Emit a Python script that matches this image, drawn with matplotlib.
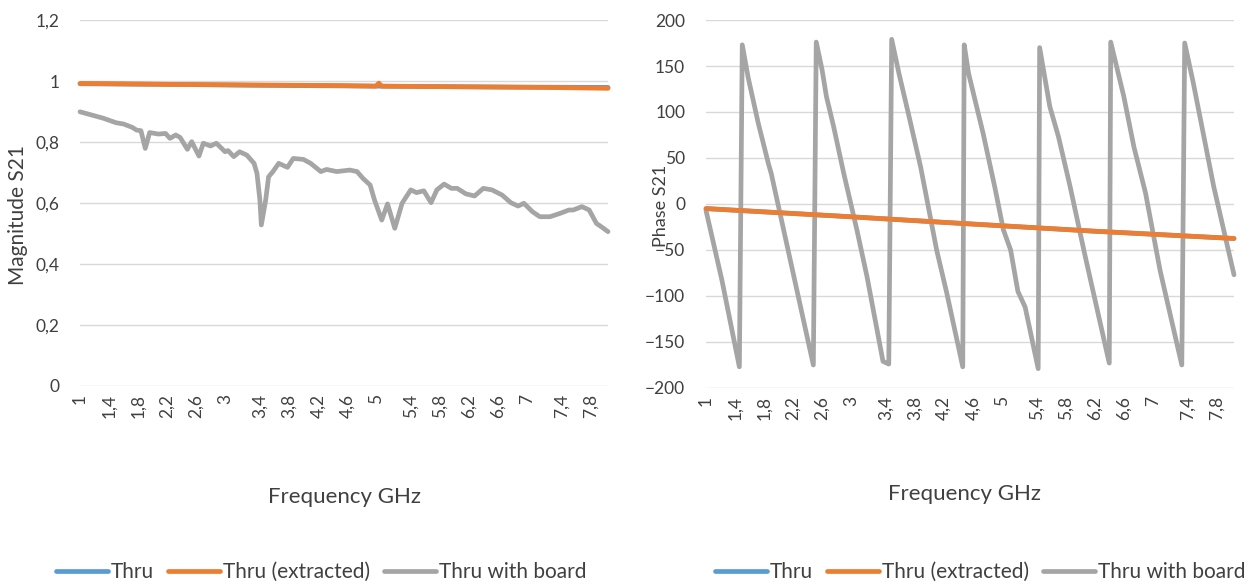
import matplotlib
matplotlib.use('Agg')
from matplotlib import pyplot as plt

plt.rcParams['font.family'] = ['Lato', 'DejaVu Sans']

# category labels (every 0.4 GHz) and their position on the sample index axis
tick_labels = ['1', '1,4', '1,8', '2,2', '2,6', '3', '3,4', '3,8', '4,2', '4,6',
               '5', '5,4', '5,8', '6,2', '6,6', '7', '7,4', '7,8']
tick_idx = [0, 20, 40, 60, 80, 100, 124, 144, 164, 184, 204, 228, 248, 268, 288, 308, 332, 352]
last_idx = 364

# Magnitude S21
mag_board_idx = [0, 16, 25, 30, 36, 39, 42, 45, 48, 54, 59, 62, 66, 69, 74, 77, 82, 85, 90, 94,
                 100, 102, 106, 110, 115, 120, 122, 124, 125, 128, 130, 133, 137, 143, 147, 154,
                 159, 166, 170, 177, 186, 191, 195, 200, 203, 208, 212, 217, 222, 228, 232, 237,
                 242, 246, 251, 256, 260, 266, 272, 278, 284, 291, 297, 302, 306, 312, 317, 324,
                 331, 337, 340, 346, 351, 356, 360, 364]
mag_board = [0.899, 0.878, 0.863, 0.859, 0.848, 0.839, 0.837, 0.779, 0.831, 0.826, 0.828, 0.812,
             0.823, 0.815, 0.776, 0.801, 0.754, 0.796, 0.787, 0.796, 0.768, 0.772, 0.752, 0.768,
             0.757, 0.730, 0.697, 0.610, 0.528, 0.610, 0.686, 0.703, 0.730, 0.717, 0.746, 0.743,
             0.730, 0.703, 0.710, 0.703, 0.708, 0.703, 0.681, 0.659, 0.610, 0.544, 0.597, 0.517,
             0.599, 0.643, 0.634, 0.640, 0.601, 0.643, 0.662, 0.648, 0.648, 0.630, 0.623, 0.648,
             0.643, 0.626, 0.601, 0.590, 0.599, 0.571, 0.555, 0.555, 0.566, 0.577, 0.577, 0.588,
             0.577, 0.533, 0.520, 0.506]
mag_thru_idx = [0, 60, 120, 180, 240, 300, 364]
mag_thru = [0.991, 0.989, 0.986, 0.984, 0.982, 0.980, 0.979]
mag_extr_idx = [0, 60, 120, 180, 204, 206, 208, 260, 320, 364]
mag_extr = [0.992, 0.989, 0.987, 0.985, 0.983, 0.993, 0.983, 0.981, 0.979, 0.976]

# Phase S21
ph_board_idx = [0, 11, 23, 25, 29, 36, 43, 45, 74, 76, 80, 83, 88, 95, 104, 111, 122, 126, 128,
                133, 140, 148, 159, 166, 177, 178, 181, 191, 199, 205, 210, 215, 220, 229, 230,
                237, 243, 251, 261, 278, 279, 288, 295, 303, 313, 328, 330, 336, 350, 364]
ph_board = [-7, -83, -177, 173, 138, 88, 44, 33, -175, 176, 146, 117, 84, 33, -28, -79, -171, -174,
            179, 142, 95, 40, -50, -97, -177, 173, 142, 77, 19, -28, -50, -95, -112, -179, 170,
            106, 73, 19, -54, -173, 176, 117, 62, 12, -72, -175, 175, 131, 19, -77]
ph_thru_idx = [0, 90, 175, 267, 364]
ph_thru = [-5, -13, -21, -29.5, -37.5]
ph_extr_idx = [0, 90, 175, 267, 364]
ph_extr = [-5, -13, -21, -29.5, -37.5]

BLUE = '#5B9BD5'
ORANGE = '#ED7D31'
GRAY = '#A5A5A5'
TXT = '#404040'

fig = plt.figure(figsize=(12.56, 5.85), dpi=100)
ax1 = fig.add_axes([0.0637, 0.3402, 0.4204, 0.6256])
ax2 = fig.add_axes([0.5621, 0.3368, 0.4204, 0.6290])

lw = 3.4
kw = dict(lw=lw, solid_capstyle='round', solid_joinstyle='round', clip_on=False)

ax1.plot(mag_thru_idx, mag_thru, color=BLUE, label='Thru', zorder=3, **kw)
ax1.plot(mag_extr_idx, mag_extr, color=ORANGE, label='Thru (extracted)', zorder=4, **kw)
ax1.plot(mag_board_idx, mag_board, color=GRAY, label='Thru with board', zorder=5, **kw)

ax2.plot(ph_thru_idx, ph_thru, color=BLUE, label='Thru', zorder=3, **kw)
ax2.plot(ph_extr_idx, ph_extr, color=ORANGE, label='Thru (extracted)', zorder=5, **kw)
ax2.plot(ph_board_idx, ph_board, color=GRAY, label='Thru with board', zorder=4, **kw)

ax1.set_ylim(0, 1.2)
ax1.set_yticks([0, 0.2, 0.4, 0.6, 0.8, 1.0, 1.2])
ax1.set_yticklabels(['0', '0,2', '0,4', '0,6', '0,8', '1', '1,2'])
ax2.set_ylim(-200, 200)
ax2.set_yticks(range(-200, 201, 50))

for ax in (ax1, ax2):
    ax.set_xlim(0, last_idx)
    ax.set_xticks(tick_idx)
    ax.set_xticklabels(tick_labels, rotation=90, va='top', ha='center')
    ax.grid(axis='y', color='#D9D9D9', lw=1.0, zorder=0)
    ax.set_axisbelow(True)
    [ax.spines[s].set_visible(False) for s in ax.spines]
    ax.tick_params(length=0, labelsize=12.5, colors=TXT)
    ax.tick_params(axis='x', pad=6)
    ax.tick_params(axis='y', pad=15)

fig.text(345 / 1256, 1 - 497 / 585, 'Frequency GHz', ha='center', va='center', fontsize=16, color=TXT)
fig.text(965 / 1256, 1 - 494 / 585, 'Frequency GHz', ha='center', va='center', fontsize=16, color=TXT)
fig.text(18 / 1256, 1 - 215 / 585, 'Magnitude S21', ha='center', va='center', rotation=90, fontsize=15, color=TXT)
fig.text(661 / 1256, 1 - 206 / 585, 'Phase S21', ha='center', va='center', rotation=90, fontsize=13, color=TXT)

for ax, cx in ((ax1, 321), (ax2, 980)):
    h, l = ax.get_legend_handles_labels()
    fig.legend(h, l, loc='center',
               bbox_to_anchor=(cx / 1256, 1 - 572 / 585), ncol=3, frameon=False,
               fontsize=15, handlelength=2.5, handletextpad=0.15, columnspacing=0.65,
               labelcolor=TXT)

fig.savefig('out.png', dpi=100)
